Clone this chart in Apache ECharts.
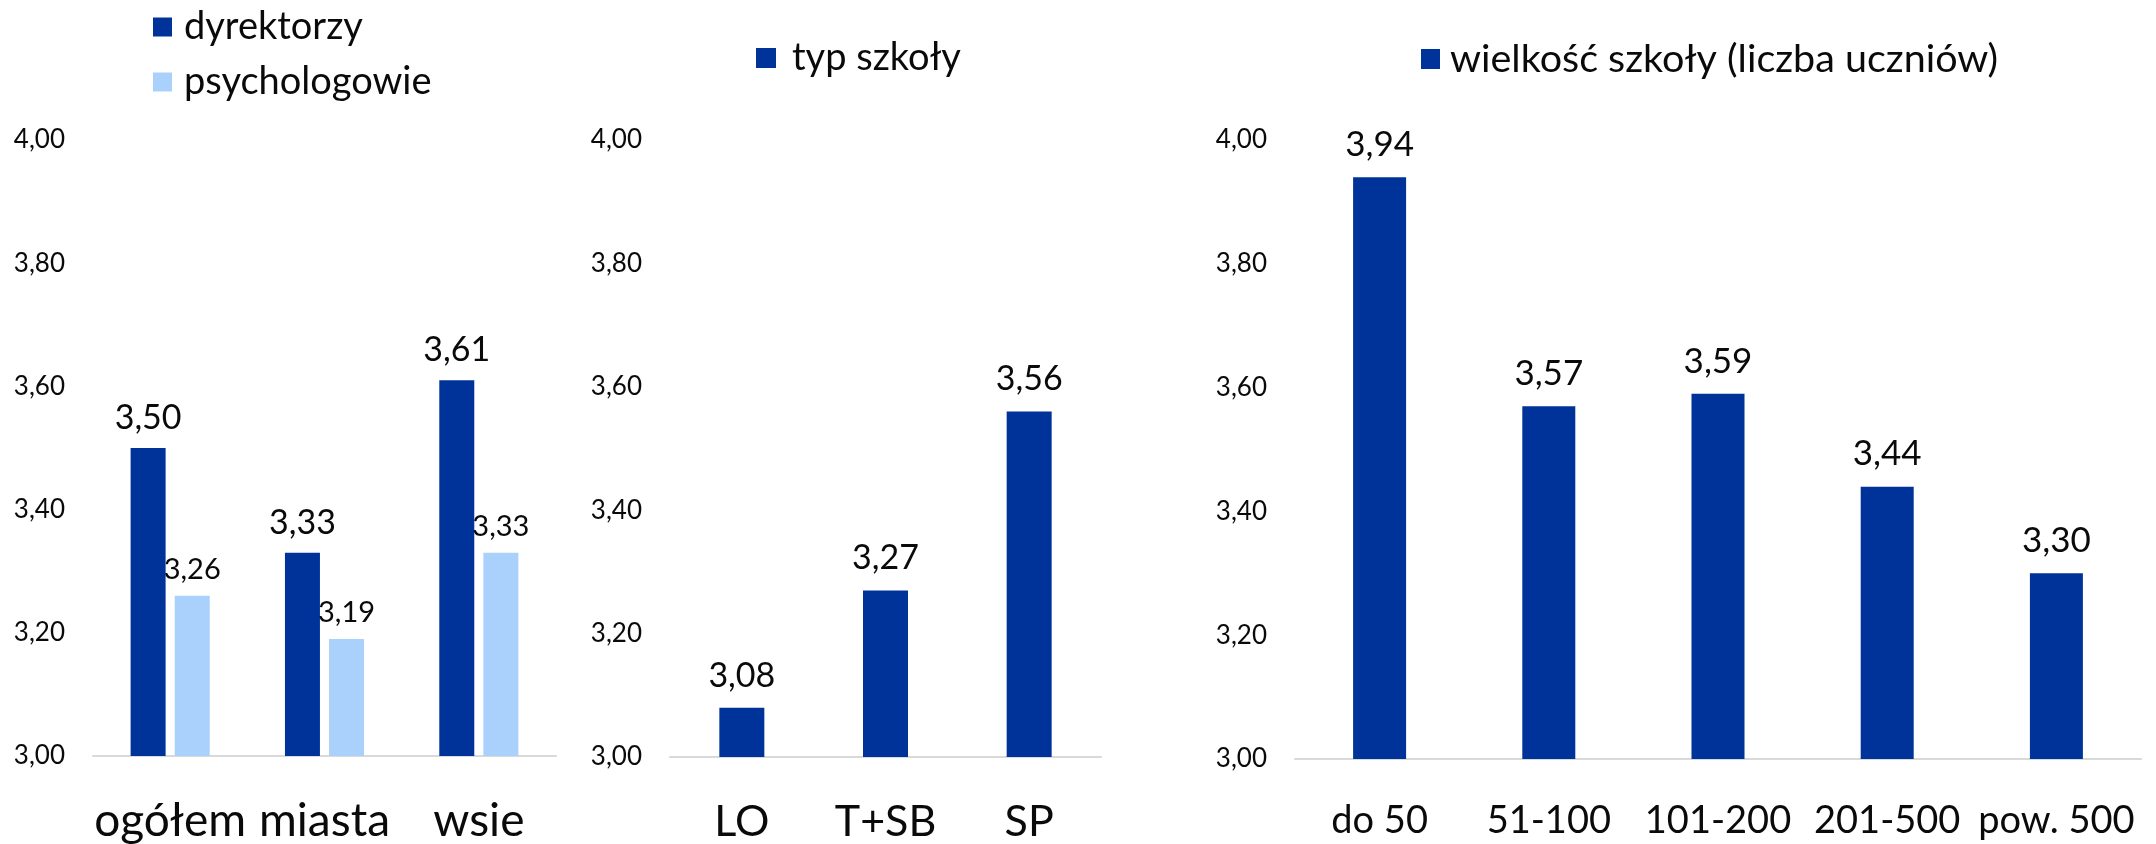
<!DOCTYPE html>
<html>
<head>
<meta charset="utf-8">
<script src="https://cdn.jsdelivr.net/npm/echarts@6/dist/echarts.min.js"></script>
<style>
html,body{margin:0;padding:0;background:#fff;}
#c{width:2156px;height:844px;}
</style>
</head>
<body>
<div id="c"></div>
<script>
// ---- data ----
const cat1 = ['ogółem', 'miasta', 'wsie'];
const dyrektorzy = [3.50, 3.33, 3.61];
const psychologowie = [3.26, 3.19, 3.33];
const cat2 = ['LO', 'T+SB', 'SP'];
const typSzkoly = [3.08, 3.27, 3.56];
const cat3 = ['do 50', '51-100', '101-200', '201-500', 'pow. 500'];
const wielkosc = [3.94, 3.57, 3.59, 3.44, 3.30];
const yMin = 3.0, yMax = 4.0, yStep = 0.2;

const FONT = 'Lato';
const TXT = '#0a0a0a';
const DARK = '#003399';
const LIGHT = '#a9d1fc';
const fmt = v => Number(v).toFixed(2).replace('.', ',');

function yAx(gi) {
  return {
    type: 'value', gridIndex: gi, min: yMin, max: yMax, interval: yStep,
    axisLine: {show: false}, axisTick: {show: false}, splitLine: {show: false},
    axisLabel: {formatter: fmt, fontFamily: FONT, fontSize: 26, color: TXT, margin: 28}
  };
}
function xAx(gi, data, fs, mg) {
  return {
    type: 'category', gridIndex: gi, data: data,
    axisLine: {show: true, lineStyle: {color: '#d9d9d9', width: 2}},
    axisTick: {show: false},
    axisLabel: {fontFamily: FONT, fontSize: fs, color: TXT, margin: mg, interval: 0}
  };
}
function lbl(fs, dist) {
  return {show: true, position: 'top', distance: dist, formatter: p => fmt(p.value),
          fontFamily: FONT, fontSize: fs, color: TXT};
}
function legText(fs, pad) {
  return {fontFamily: FONT, fontSize: fs, color: TXT, padding: [0, 0, 0, pad]};
}

const option = {
  animation: false,
  backgroundColor: '#fff',
  legend: [
    {data: ['dyrektorzy', 'psychologowie'], orient: 'vertical', left: 148, top: 3,
     icon: 'rect', itemWidth: 19, itemHeight: 19, itemGap: 17, textStyle: legText(38, 7)},
    {data: ['typ szkoły'], left: 751, top: 34,
     icon: 'rect', itemWidth: 20, itemHeight: 20, textStyle: legText(38, 11)},
    {data: ['wielkość szkoły (liczba uczniów)'], left: 1416, top: 34,
     icon: 'rect', itemWidth: 19, itemHeight: 20, textStyle: legText(39.5, 5)}
  ],
  grid: [
    {left: 93, top: 140, width: 463, height: 619},
    {left: 670, top: 140, width: 431, height: 619},
    {left: 1295, top: 140, width: 846, height: 619}
  ],
  xAxis: [xAx(0, cat1, 46, 42), xAx(1, cat2, 43, 44), xAx(2, cat3, 38, 43)],
  yAxis: [yAx(0), yAx(1), yAx(2)],
  series: [
    {name: 'dyrektorzy', type: 'bar', xAxisIndex: 0, yAxisIndex: 0, data: dyrektorzy,
     barWidth: 35, barGap: '26%', itemStyle: {color: DARK}, label: lbl(34, 13)},
    {name: 'psychologowie', type: 'bar', xAxisIndex: 0, yAxisIndex: 0, data: psychologowie,
     barWidth: 35, barGap: '26%', itemStyle: {color: LIGHT}, label: lbl(29, 12)},
    {name: 'typ szkoły', type: 'bar', xAxisIndex: 1, yAxisIndex: 1, data: typSzkoly,
     barWidth: 45, itemStyle: {color: DARK}, label: lbl(34, 15)},
    {name: 'wielkość szkoły (liczba uczniów)', type: 'bar', xAxisIndex: 2, yAxisIndex: 2, data: wielkosc,
     barWidth: 53, itemStyle: {color: DARK}, label: lbl(35, 15)}
  ]
};
const chart = echarts.init(document.getElementById('c'), null, {renderer: 'canvas'});
chart.setOption(option);
</script>
</body>
</html>
